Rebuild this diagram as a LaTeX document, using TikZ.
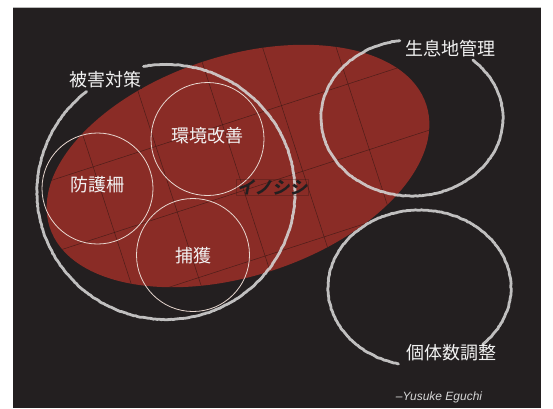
\documentclass[tikz,border=0pt]{standalone}
\usepackage{fontspec}
\setmainfont{Liberation Sans}
\newfontfamily\cjk{Noto Sans CJK JP}
\newfontfamily\cjkbi[FakeSlant=0.2,FakeBold=2]{Noto Sans CJK JP Bold}
\usetikzlibrary{decorations.pathmorphing}
\definecolor{bg}{HTML}{231F20}
\definecolor{boar}{HTML}{8A2C26}
\definecolor{chalk}{HTML}{D6D6D6}
\definecolor{thinc}{HTML}{E8D8D0}
\definecolor{gridc}{HTML}{3A1815}
\definecolor{labelc}{HTML}{F2F2F2}
\pgfmathsetseed{11}
\begin{document}
\begin{tikzpicture}[x=1pt,y=-1pt,
  chalkline/.style={draw=chalk, line width=2.8pt, opacity=0.88, line cap=round,
    decorate, decoration={random steps, segment length=2pt, amplitude=0.3pt}},
  thinring/.style={draw=thinc, line width=0.8pt},
  gridline/.style={draw=gridc, line width=0.5pt, opacity=0.75},
  biglabel/.style={font=\cjk\fontsize{18}{18}\selectfont, text=labelc, inner sep=1pt},
  boarlabel/.style={font=\cjkbi\fontsize{17.5}{17.5}\selectfont, text=bg, draw=gridc,
    draw opacity=0.35, line width=0.4pt, minimum width=72pt, minimum height=16pt, inner sep=0pt},
  credit/.style={font=\itshape\fontsize{12}{13}\selectfont, text=chalk}]
\useasboundingbox (0,0) rectangle (553,408);
\fill[white] (0,0) rectangle (553,408);
\fill[bg] (13,8) rectangle (541,408);
\draw[gray!55, line width=0.8pt] (13,7.6) -- (541,7.6);

% red ellipse
\fill[boar, rotate around={18:(238,166)}] (238,166) ellipse [x radius=198pt, y radius=110pt];
% grid inside ellipse
\begin{scope}
  \clip[rotate around={18:(238,166)}] (238,166) ellipse [x radius=198pt, y radius=110pt];
  \begin{scope}[shift={(238,166)}, rotate=18]
    \foreach \t in {-44,25,94} \draw[gridline] (-260,\t) -- (260,\t);
    \foreach \s in {-138,-72,-2,60,130} \draw[gridline] (\s,-150) -- (\s,150);
  \end{scope}
\end{scope}

% thin inner rings
\draw[thinring] (97.5,188.5) circle [radius=55.5pt];
\draw[thinring] (207.5,139) circle [radius=56.5pt];
\draw[thinring] (193,255) circle [radius=56.5pt];

% chalk rings
\draw[chalkline] (166,192) ++(128:129pt and 127.5pt)
  arc [start angle=128, end angle=460, x radius=129pt, y radius=127.5pt];
\draw[chalkline] (412,118) ++(97.7:91pt and 78pt)
  arc [start angle=97.7, end angle=408, x radius=91pt, y radius=78pt];
\draw[chalkline] (419.5,288) ++(313.7:91.5pt and 78pt)
  arc [start angle=313.7, end angle=616.7, x radius=91.5pt, y radius=78pt];

% labels
\node[biglabel, fill=bg] (higai) at (105,80) {被害対策};
\node[biglabel] (seisoku) at (450,49) {生息地管理};
\node[biglabel] (kotai) at (451,353) {個体数調整};
\node[biglabel] (bougo) at (97.5,185) {防護柵};
\node[biglabel] (kankyo) at (207,136) {環境改善};
\node[biglabel] (hokaku) at (193,256) {捕獲};
\node[boarlabel] (inoshishi) at (272,187) {イノシシ};
\node[credit] (author) at (439,397) {–Yusuke Eguchi};
\end{tikzpicture}
\end{document}
